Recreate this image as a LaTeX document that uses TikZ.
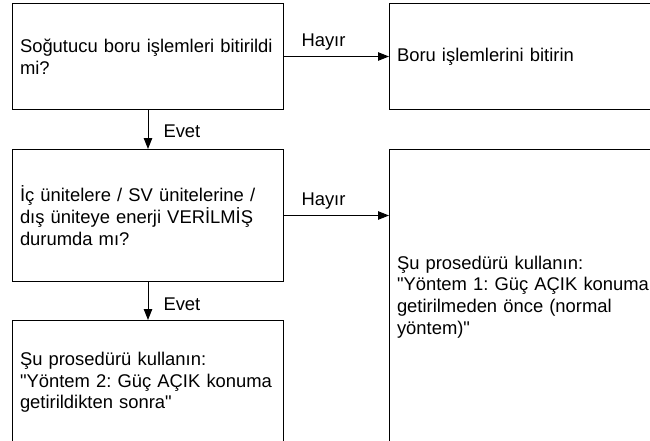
\documentclass[tikz,border=0pt]{standalone}
\usepackage{fontspec}
\setmainfont{Liberation Sans}
\usepackage{tikz}
\usetikzlibrary{arrows.meta,positioning}
\frenchspacing

\begin{document}
\begin{tikzpicture}[
        x=1pt, y=-1pt,
        txt/.style={font=\fontsize{18.4}{21.7}\selectfont},
        box/.style={txt, draw, line width=1pt, anchor=north west, inner xsep=7.5pt, align=left},
        arrow/.style={-{Triangle[length=11pt,width=8.5pt]}, line width=1pt},
        lbl/.style={txt, inner sep=0pt}
    ]
        \useasboundingbox (0,0) rectangle (650,441);
        \clip (0,0) rectangle (650,441);

        \node[box, minimum width=271pt, minimum height=106pt, text width=256pt] (piping) at (12,3)
            {Soğutucu boru işlemleri bitirildi\\mi?};
        \node[box, minimum width=281pt, minimum height=106pt, text width=266pt] (finish) at (389,3)
            {Boru işlemlerini bitirin};
        \node[box, minimum width=271pt, minimum height=132pt, text width=256pt] (power) at (12,149)
            {İç ünitelere / SV ünitelerine /\\dış üniteye enerji VERİLMİŞ\\durumda mı?};
        \node[box, minimum width=281pt, minimum height=295pt, text width=266pt] (method1) at (389,149)
            {Şu prosedürü kullanın:\\\textquotedbl Yöntem 1: Güç AÇIK konuma\\getirilmeden önce (normal\\yöntem)\textquotedbl};
        \node[box, minimum width=271pt, minimum height=124pt, text width=256pt] (method2) at (12,320)
            {Şu prosedürü kullanın:\\\textquotedbl Yöntem 2: Güç AÇIK konuma\\getirildikten sonra\textquotedbl};

        \draw[arrow] (piping) -- node[lbl, pos=0, anchor=base west, xshift=17pt, yshift=10pt]{Hayır} (finish);
        \draw[arrow] (piping) -- node[lbl, anchor=base west, xshift=15pt, yshift=-8pt]{Evet} (power);
        \draw[arrow] (power.east) -- node[lbl, pos=0, anchor=base west, xshift=17pt, yshift=10pt]{Hayır} (power.east -| method1.west);
        \draw[arrow] (power) -- node[lbl, anchor=base west, xshift=15pt, yshift=-9pt]{Evet} (method2);
    \end{tikzpicture}
\end{document}
